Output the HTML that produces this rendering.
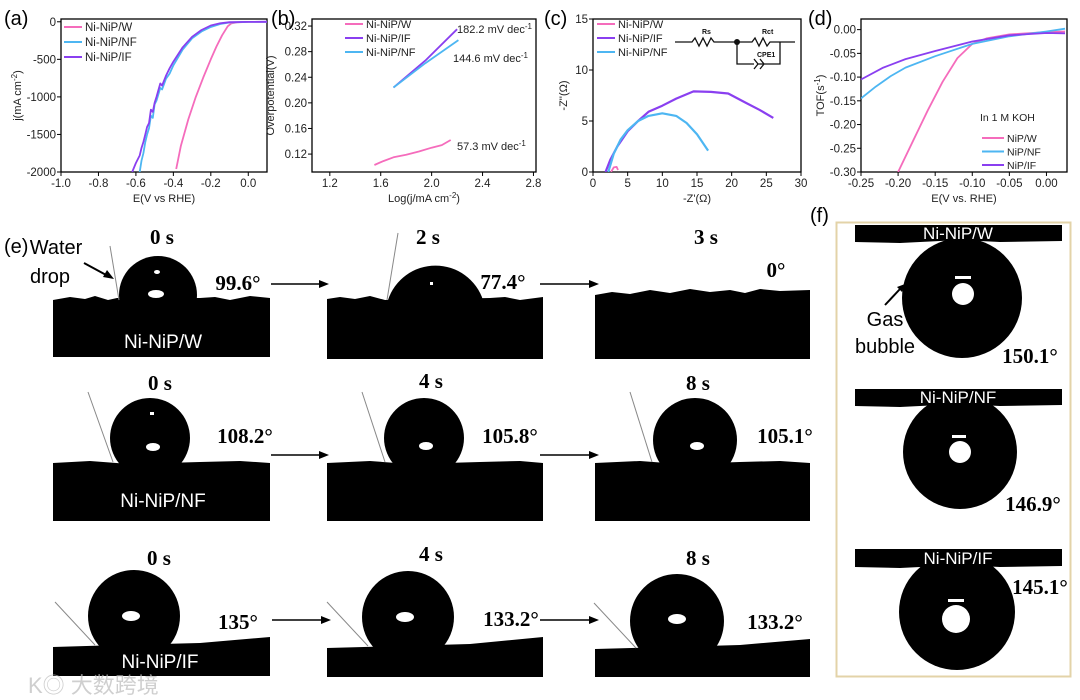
<!DOCTYPE html>
<html><head><meta charset="utf-8">
<style>
html,body{margin:0;padding:0;background:#fff;}
svg{display:block;font-family:"Liberation Sans",sans-serif;}
.ser{font-family:"Liberation Serif",serif;font-weight:bold;font-size:21px;}
.lab{font-size:20px;}
</style></head>
<body>
<svg id="fig" width="1080" height="700" viewBox="0 0 1080 700" xmlns="http://www.w3.org/2000/svg">
<g id="charts"></g>

<text x="4" y="25" class="lab">(a)</text>
<text x="271" y="25" class="lab">(b)</text>
<text x="544" y="25" class="lab">(c)</text>
<text x="808" y="25" class="lab">(d)</text>
<text x="4" y="253" class="lab">(e)</text>
<text x="810" y="222" class="lab">(f)</text>

<g>
 <g>
  <circle cx="158" cy="295" r="39" fill="#000"/>
  <path d="M53 300 L70 297 L85 299 L95 296 L108 300 L117 298 L200 298 L215 297 L230 300 L250 296 L270 298 L270 357 L53 357Z" fill="#000"/>
  <ellipse cx="156" cy="294" rx="8" ry="4" fill="#fff"/>
  <ellipse cx="157" cy="272" rx="3" ry="2" fill="#fff"/>
  <line x1="110" y1="246" x2="119" y2="300" stroke="#888" stroke-width="1"/>
  <text x="162" y="244" class="ser" text-anchor="middle">0 s</text>
  <text x="238" y="290" class="ser" text-anchor="middle">99.6°</text>
  <text x="163" y="348" font-size="19" fill="#fff" text-anchor="middle">Ni-NiP/W</text>
  <text x="56" y="254" font-size="20" text-anchor="middle">Water</text>
  <text x="50" y="283" font-size="20" text-anchor="middle">drop</text>
  <line x1="84" y1="263" x2="108" y2="276" stroke="#000" stroke-width="2"/>
  <polygon points="114,279 103,277 107,270" fill="#000"/>

  <path d="M388 300 A50 50 0 0 1 483 300 Z" fill="#000"/>
  <path d="M327 299 L340 297 L355 299 L370 296 L385 300 L490 298 L505 297 L520 300 L543 297 L543 359 L327 359Z" fill="#000"/>
  <rect x="430" y="282" width="3" height="3" fill="#fff"/>
  <line x1="398" y1="233" x2="387" y2="300" stroke="#888" stroke-width="1"/>
  <text x="428" y="244" class="ser" text-anchor="middle">2 s</text>
  <text x="503" y="289" class="ser" text-anchor="middle">77.4°</text>

  <path d="M595 295 L612 292 L630 294 L650 290 L670 293 L690 289 L710 292 L730 290 L745 293 L760 289 L780 291 L810 290 L810 359 L595 359Z" fill="#000"/>
  <text x="706" y="244" class="ser" text-anchor="middle">3 s</text>
  <text x="776" y="277" class="ser" text-anchor="middle">0°</text>

  <line x1="271" y1="284" x2="322" y2="284" stroke="#000" stroke-width="1.5"/>
  <polygon points="329,284 319,280 319,288" fill="#000"/>
  <line x1="540" y1="284" x2="592" y2="284" stroke="#000" stroke-width="1.5"/>
  <polygon points="599,284 589,280 589,288" fill="#000"/>
 </g>
 <g>
  <circle cx="150" cy="438" r="40" fill="#000"/>
  <path d="M53 463 L90 461 L130 464 L200 462 L240 461 L270 463 L270 521 L53 521Z" fill="#000"/>
  <ellipse cx="153" cy="447" rx="7" ry="4" fill="#fff"/>
  <rect x="150" y="412" width="4" height="3" fill="#fff"/>
  <line x1="88" y1="392" x2="113" y2="462" stroke="#888" stroke-width="1"/>
  <text x="160" y="390" class="ser" text-anchor="middle">0 s</text>
  <text x="245" y="443" class="ser" text-anchor="middle">108.2°</text>
  <text x="163" y="507" font-size="19" fill="#fff" text-anchor="middle">Ni-NiP/NF</text>

  <circle cx="424" cy="438" r="40" fill="#000"/>
  <path d="M327 463 L370 461 L410 464 L480 462 L520 461 L543 463 L543 521 L327 521Z" fill="#000"/>
  <ellipse cx="426" cy="446" rx="7" ry="4" fill="#fff"/>
  <line x1="362" y1="392" x2="385" y2="462" stroke="#888" stroke-width="1"/>
  <text x="431" y="388" class="ser" text-anchor="middle">4 s</text>
  <text x="510" y="443" class="ser" text-anchor="middle">105.8°</text>

  <circle cx="695" cy="440" r="42" fill="#000"/>
  <path d="M595 463 L640 461 L680 464 L740 462 L780 461 L810 463 L810 521 L595 521Z" fill="#000"/>
  <ellipse cx="697" cy="446" rx="7" ry="4" fill="#fff"/>
  <line x1="630" y1="392" x2="652" y2="462" stroke="#888" stroke-width="1"/>
  <text x="698" y="390" class="ser" text-anchor="middle">8 s</text>
  <text x="785" y="443" class="ser" text-anchor="middle">105.1°</text>

  <line x1="271" y1="455" x2="322" y2="455" stroke="#000" stroke-width="1.5"/>
  <polygon points="329,455 319,451 319,459" fill="#000"/>
  <line x1="540" y1="455" x2="592" y2="455" stroke="#000" stroke-width="1.5"/>
  <polygon points="599,455 589,451 589,459" fill="#000"/>
 </g>
 <g>
  <circle cx="134" cy="616" r="46" fill="#000"/>
  <path d="M53 647 L120 645 L200 643 L270 637 L270 676 L53 676Z" fill="#000"/>
  <ellipse cx="131" cy="616" rx="9" ry="5" fill="#fff"/>
  <line x1="55" y1="602" x2="95" y2="645" stroke="#888" stroke-width="1"/>
  <text x="159" y="565" class="ser" text-anchor="middle">0 s</text>
  <text x="238" y="629" class="ser" text-anchor="middle">135°</text>
  <text x="160" y="668" font-size="19" fill="#fff" text-anchor="middle">Ni-NiP/IF</text>

  <circle cx="408" cy="617" r="46" fill="#000"/>
  <path d="M327 648 L400 646 L470 644 L543 637 L543 677 L327 677Z" fill="#000"/>
  <ellipse cx="405" cy="617" rx="9" ry="5" fill="#fff"/>
  <line x1="327" y1="602" x2="368" y2="646" stroke="#888" stroke-width="1"/>
  <text x="431" y="561" class="ser" text-anchor="middle">4 s</text>
  <text x="511" y="626" class="ser" text-anchor="middle">133.2°</text>

  <circle cx="677" cy="621" r="47" fill="#000"/>
  <path d="M595 649 L670 647 L740 645 L810 639 L810 677 L595 677Z" fill="#000"/>
  <ellipse cx="677" cy="619" rx="9" ry="5" fill="#fff"/>
  <line x1="594" y1="603" x2="636" y2="648" stroke="#888" stroke-width="1"/>
  <text x="698" y="565" class="ser" text-anchor="middle">8 s</text>
  <text x="775" y="629" class="ser" text-anchor="middle">133.2°</text>

  <line x1="272" y1="620" x2="324" y2="620" stroke="#000" stroke-width="1.5"/>
  <polygon points="331,620 321,616 321,624" fill="#000"/>
  <line x1="540" y1="620" x2="592" y2="620" stroke="#000" stroke-width="1.5"/>
  <polygon points="599,620 589,616 589,624" fill="#000"/>
 </g>
 <text x="28" y="693" font-size="22" fill="#bbb" opacity="0.7" font-family="'Liberation Sans','Noto Sans CJK SC',sans-serif">K◎ 大数跨境</text>
</g>

<g>
 <rect x="836.5" y="222.5" width="234" height="454" fill="#fff" stroke="#e3d3a8" stroke-width="2"/>
 <circle cx="962" cy="298" r="60" fill="#000"/>
 <path d="M855 225 L1062 225 L1062 241 L1000 242 L960 240 L900 243 L855 242Z" fill="#000"/>
 <text x="958" y="239" font-size="17" fill="#fff" text-anchor="middle">Ni-NiP/W</text>
 <circle cx="963" cy="294" r="11" fill="#fff"/>
 <rect x="955" y="276" width="16" height="3" fill="#fff"/>
 <text x="885" y="326" font-size="20" text-anchor="middle">Gas</text>
 <text x="885" y="353" font-size="20" text-anchor="middle">bubble</text>
 <line x1="885" y1="305" x2="900" y2="289" stroke="#000" stroke-width="2"/>
 <polygon points="905,284 897,287 902,292" fill="#000"/>
 <text x="1030" y="363" class="ser" text-anchor="middle">150.1°</text>

 <circle cx="960" cy="452" r="57" fill="#000"/>
 <path d="M855 389 L1062 389 L1062 405 L1000 406 L960 404 L900 407 L855 406Z" fill="#000"/>
 <text x="958" y="403" font-size="17" fill="#fff" text-anchor="middle">Ni-NiP/NF</text>
 <circle cx="960" cy="452" r="11" fill="#fff"/>
 <rect x="952" y="435" width="14" height="3" fill="#fff"/>
 <text x="1033" y="511" class="ser" text-anchor="middle">146.9°</text>

 <circle cx="957" cy="612" r="58" fill="#000"/>
 <path d="M855 549 L1062 549 L1062 566 L1000 567 L960 565 L900 568 L855 567Z" fill="#000"/>
 <text x="958" y="564" font-size="17" fill="#fff" text-anchor="middle">Ni-NiP/IF</text>
 <circle cx="956" cy="619" r="14" fill="#fff"/>
 <rect x="948" y="599" width="16" height="3" fill="#fff"/>
 <text x="1040" y="594" class="ser" text-anchor="middle">145.1°</text>
</g>
</svg>

<script>
const seriesNames = ['Ni-NiP/W','Ni-NiP/NF','Ni-NiP/IF'];
const aW_E = [0.1, 0.0, -0.06, -0.09, -0.11, -0.14, -0.17, -0.2, -0.24, -0.28, -0.32, -0.36, -0.385];
const aW_j = [0, -2, -8, -20, -60, -180, -330, -500, -740, -1000, -1300, -1650, -1960];
const aNF_E = [0.1, 0.0, -0.1, -0.15, -0.2, -0.25, -0.3, -0.35, -0.4, -0.42, -0.44, -0.46, -0.47, -0.49, -0.5, -0.51, -0.52, -0.53, -0.54, -0.55, -0.56, -0.57, -0.58];
const aNF_j = [0, -2, -10, -30, -70, -130, -220, -370, -580, -690, -760, -900, -880, -1050, -1100, -1280, -1250, -1420, -1500, -1600, -1750, -1850, -2000];
const aIF_E = [0.1, 0.0, -0.1, -0.15, -0.2, -0.25, -0.3, -0.35, -0.4, -0.42, -0.44, -0.46, -0.47, -0.49, -0.5, -0.51, -0.52, -0.53, -0.54, -0.55, -0.56, -0.57, -0.58, -0.6, -0.62];
const aIF_j = [0, -2, -6, -20, -50, -110, -200, -340, -530, -620, -720, -850, -820, -1000, -1080, -1200, -1170, -1350, -1400, -1500, -1600, -1680, -1780, -1880, -2000];
const aXTicks = [-1.0,-0.8,-0.6,-0.4,-0.2,0.0];
const aXLabels = ['-1.0','-0.8','-0.6','-0.4','-0.2','0.0'];
const aYTicks = [0,-500,-1000,-1500,-2000];
const aYLabels = ['0','-500','-1000','-1500','-2000'];
const bW_x = [1.55, 1.62, 1.7, 1.8, 1.9, 2.0, 2.08, 2.15];
const bW_y = [0.103, 0.109, 0.115, 0.119, 0.124, 0.13, 0.134, 0.142];
const bIF_x = [1.7, 1.95, 2.2];
const bIF_y = [0.224, 0.266, 0.315];
const bNF_x = [1.7, 1.95, 2.21];
const bNF_y = [0.224, 0.262, 0.298];
const bXTicks = [1.2,1.6,2.0,2.4,2.8];
const bXLabels = ['1.2','1.6','2.0','2.4','2.8'];
const bYTicks = [0.12,0.16,0.20,0.24,0.28,0.32];
const bYLabels = ['0.12','0.16','0.20','0.24','0.28','0.32'];
const cW_x = [2.6, 3.0, 3.4, 3.6];
const cW_y = [0.0, 0.45, 0.5, 0.2];
const cIF_x = [1.8, 2.5, 3.5, 5, 6.5, 8, 10, 12, 14.5, 17, 19.5, 22, 24, 26];
const cIF_y = [0, 1.2, 2.5, 4, 5, 5.9, 6.5, 7.2, 7.9, 7.85, 7.7, 6.8, 6.1, 5.3];
const cNF_x = [2.2, 3, 4, 5, 6.5, 8, 10, 12, 13.5, 15, 16.6];
const cNF_y = [0, 1.8, 3.2, 4.1, 5, 5.5, 5.75, 5.5, 4.8, 3.7, 2.1];
const cXTicks = [0,5,10,15,20,25,30];
const cXLabels = ['0','5','10','15','20','25','30'];
const cYTicks = [0,5,10,15];
const cYLabels = ['0','5','10','15'];
const dW_x = [-0.2, -0.18, -0.16, -0.14, -0.12, -0.1, -0.08, -0.05, 0.0, 0.025];
const dW_y = [-0.30, -0.235, -0.17, -0.11, -0.06, -0.03, -0.018, -0.01, -0.005, -0.004];
const dNF_x = [-0.25, -0.23, -0.21, -0.19, -0.15, -0.1, -0.05, 0.0, 0.025];
const dNF_y = [-0.145, -0.12, -0.098, -0.08, -0.056, -0.03, -0.014, -0.004, 0.002];
const dIF_x = [-0.25, -0.22, -0.19, -0.15, -0.1, -0.05, 0.0, 0.025];
const dIF_y = [-0.105, -0.08, -0.062, -0.045, -0.025, -0.012, -0.007, -0.008];
const dXTicks = [-0.25,-0.2,-0.15,-0.1,-0.05,0.0];
const dXLabels = ['-0.25','-0.20','-0.15','-0.10','-0.05','0.00'];
const dYTicks = [0,-0.05,-0.1,-0.15,-0.2,-0.25,-0.3];
const dYLabels = ['0.00','-0.05','-0.10','-0.15','-0.20','-0.25','-0.30'];

const PINK='#f56cbc', BLUE='#4db6f2', PURPLE='#8a3ff0';
const NS='http://www.w3.org/2000/svg';
const root=document.getElementById('charts');
function mk(tag, attrs, parent){const e=document.createElementNS(NS,tag);for(const k in attrs)e.setAttribute(k,attrs[k]);(parent||root).appendChild(e);return e;}
function txt(s, attrs, parent){const e=mk('text',attrs,parent);e.textContent=s;return e;}

function makeAxes(name, box, xd, yd, xt, xl, yt, yl, xTitle, yTitle){
  const g=mk('g',{});
  
  
  const sx=v=>box.x0+(v-xd[0])/(xd[1]-xd[0])*(box.x1-box.x0);
  const sy=v=>box.y1-(v-yd[0])/(yd[1]-yd[0])*(box.y1-box.y0);
  const r=mk('rect',{x:box.x0,y:box.y0,width:box.x1-box.x0,height:box.y1-box.y0,fill:'none',stroke:'#000','stroke-width':1.3},g);
  
  
  xt.forEach((v,i)=>{
    const x=sx(v);
    const t=mk('line',{x1:x,x2:x,y1:box.y1,y2:box.y1+4,stroke:'#000'},g);
    
    
    const l=txt(xl[i],{x:x,y:box.y1+15,'font-size':11.5,'text-anchor':'middle',fill:'#222'},g);
    
    
  });
  yt.forEach((v,i)=>{
    const y=sy(v);
    const t=mk('line',{x1:box.x0-4,x2:box.x0,y1:y,y2:y,stroke:'#000'},g);
    
    
    const l=txt(yl[i],{x:box.x0-5,y:y+4,'font-size':11.5,'text-anchor':'end',fill:'#222'},g);
    
    
  });
  const xtEl=txt('',{x:(box.x0+box.x1)/2,y:box.y1+30,'font-size':11,'text-anchor':'middle',fill:'#222'},g);
  xtEl.innerHTML=xTitle;
  
  
  const cy=(box.y0+box.y1)/2, yx=box.x0-(yTitle.xoff);
  const ytEl=txt('',{x:yx,y:cy,'font-size':11,'text-anchor':'middle',fill:'#222',transform:`rotate(-90 ${yx} ${cy})`},g);
  ytEl.innerHTML=yTitle.t;
  
  
  const cid='clip-'+name;
  const cp=mk('clipPath',{id:cid},g);
  mk('rect',{x:box.x0,y:box.y0,width:box.x1-box.x0,height:box.y1-box.y0},cp);
  const plot=mk('g',{'clip-path':`url(#${cid})`},g);
  
  
  return {g,plot,sx,sy};
}
function line(ax, xs, ys, color, name, w){
  const d=xs.map((v,i)=>(i?'L':'M')+ax.sx(v).toFixed(1)+' '+ax.sy(ys[i]).toFixed(1)).join(' ');
  const p=mk('path',{d:d,fill:'none',stroke:color,'stroke-width':w||1.8,'stroke-linejoin':'round'},ax.plot);
  
  
}
function legend(g, x, y, dy, items, fs, len){
  items.forEach((it,i)=>{
    const l=mk('line',{x1:x,x2:x+(len||18),y1:y+i*dy,y2:y+i*dy,stroke:it[1],'stroke-width':2},g);
    
    
    const t=txt(it[0],{x:x+(len||18)+3,y:y+i*dy+4,'font-size':fs||11.5,fill:'#222'},g);
    
    
  });
}

const A=makeAxes('chart-a-lsv',{x0:61,x1:267,y0:19,y1:172},[-1.0,0.1],[-2000,37],aXTicks,aXLabels,aYTicks,aYLabels,'E(V vs RHE)',{t:'j(mA cm<tspan dy="-4" font-size="8">-2</tspan><tspan dy="4">)</tspan>',xoff:40});
line(A,aW_E,aW_j,PINK,'series-a-w');
line(A,aNF_E,aNF_j,BLUE,'series-a-nf');
line(A,aIF_E,aIF_j,PURPLE,'series-a-if');
legend(A.g,64,27,15,[['Ni-NiP/W',PINK],['Ni-NiP/NF',BLUE],['Ni-NiP/IF',PURPLE]]);

const B=makeAxes('chart-b-tafel',{x0:312,x1:536,y0:19,y1:172},[1.06,2.82],[0.092,0.331],bXTicks,bXLabels,bYTicks,bYLabels,'Log(j/mA cm<tspan dy="-4" font-size="8">-2</tspan><tspan dy="4">)</tspan>',{t:'Overpotential(V)',xoff:38});
line(B,bW_x,bW_y,PINK,'series-b-w');
line(B,bIF_x,bIF_y,PURPLE,'series-b-if');
line(B,bNF_x,bNF_y,BLUE,'series-b-nf');
legend(B.g,345,24,14,[['Ni-NiP/W',PINK],['Ni-NiP/IF',PURPLE],['Ni-NiP/NF',BLUE]],11);
[['182.2 mV dec',457,33],['144.6 mV dec',453,62],['57.3 mV dec',457,150]].forEach(a=>{
  const t=txt('',{x:a[1],y:a[2],'font-size':11,fill:'#222'},B.g);
  t.innerHTML=a[0]+'<tspan dy="-4" font-size="8">-1</tspan>';
  
  
});

const C=makeAxes('chart-c-nyquist',{x0:593,x1:801,y0:19,y1:172},[0,30],[0,15],cXTicks,cXLabels,cYTicks,cYLabels,"-Z'(Ω)",{t:"-Z''(Ω)",xoff:26});
line(C,cW_x,cW_y,PINK,'series-c-w');
line(C,cIF_x,cIF_y,PURPLE,'series-c-if',2.2);
line(C,cNF_x,cNF_y,BLUE,'series-c-nf',2.2);
legend(C.g,597,24,14,[['Ni-NiP/W',PINK],['Ni-NiP/IF',PURPLE],['Ni-NiP/NF',BLUE]],11);
(function(){
  const g=mk('g',{fill:'none',stroke:'#111','stroke-width':1.3},C.g);
  
  
  mk('path',{d:'M675 42 L692 42 l3 -4 l4 8 l4 -8 l4 8 l4 -8 l3 4 L737 42 M737 42 L752 42 l3 -4 l4 8 l4 -8 l4 8 l3 -4 L795 42 M780 42 L780 64 L757 64 M754 59 l4 5 l-4 5 M760 59 l4 5 l-4 5 M764 64 L780 64 M737 42 L737 64 L754 64'},g);
  const dot=mk('circle',{cx:737,cy:42,r:3,fill:'#111'},C.g);
  
  
  [['Rs',702,34],['Rct',762,34],['CPE1',757,57]].forEach(a=>{
    const t=txt(a[0],{x:a[1],y:a[2],'font-size':7,'font-weight':'bold',fill:'#111'},C.g);
    
    
  });
})();

const D=makeAxes('chart-d-tof',{x0:861,x1:1067,y0:19,y1:172},[-0.25,0.0277],[-0.30,0.0224],dXTicks,dXLabels,dYTicks,dYLabels,'E(V vs. RHE)',{t:'TOF(s<tspan dy="-4" font-size="8">-1</tspan><tspan dy="4">)</tspan>',xoff:37});
line(D,dW_x,dW_y,PINK,'series-d-w');
line(D,dNF_x,dNF_y,BLUE,'series-d-nf');
line(D,dIF_x,dIF_y,PURPLE,'series-d-if');
const kt=txt('In 1 M KOH',{x:980,y:121,'font-size':10.5,fill:'#222'},D.g);


legend(D.g,982,138,13.5,[['NiP/W',PINK],['NiP/NF',BLUE],['NiP/IF',PURPLE]],10.5,22);
</script>
</body></html>
